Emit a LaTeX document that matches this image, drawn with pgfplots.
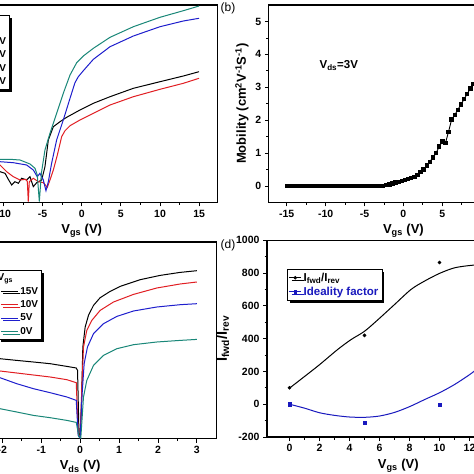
\documentclass[border=0pt]{standalone}
\usepackage{pgfplots}
\pgfplotsset{compat=1.18}
\usepackage{fontspec}
\setmainfont{Liberation Sans}
\usetikzlibrary{shadows}
\definecolor{myred}{RGB}{225,30,35}
\definecolor{myblue}{RGB}{30,30,205}
\definecolor{myteal}{RGB}{25,135,120}
\definecolor{dblue}{RGB}{25,25,190}
\pgfplotsset{
  panel/.style={scale only axis, anchor=south west,
    axis line style={line width=1.1pt},
    tick align=outside, tick pos=left,
    major tick length=4pt, minor tick length=2.5pt,
    every tick/.style={black, line width=0.8pt},
    tick label style={font=\fontsize{10.5}{12}\selectfont\bfseries},
    label style={font=\fontsize{13}{15}\selectfont\bfseries}},
  leg/.style={legend cell align=left,
    legend style={font=\fontsize{10}{12}\selectfont\bfseries, draw=black, line width=0.8pt,
      fill=white, inner sep=1.5pt, row sep=1pt,
      drop shadow={shadow xshift=2.5pt, shadow yshift=-2.5pt, fill=black, opacity=1}}},
  crv/.style={line width=1pt, no markers}
}
\begin{document}
\begin{tikzpicture}[x=1pt,y=1pt]
\useasboundingbox (0,0) rectangle (474,474);
\clip (0,0) rectangle (474,474);
\fill[white] (0,0) rectangle (474,474);

% ---------- (a) ----------
\begin{axis}[panel, at={(-53.8pt,271.5pt)}, width=271pt, height=197.5pt,
  xmin=-17.3, xmax=17.3, ymin=0, ymax=197.5,
  xtick={-15,-10,-5,0,5,10,15}, xticklabels={-15,-10,-5,0,5,10,15},
  minor x tick num=1, ytick=\empty,
  xlabel={V\textsubscript{gs} (V)},
  leg, legend style={at={(rel axis cs:0.2354,0.95)}, anchor=north east, row sep=1pt}]
\addlegendimage{empty legend}\addlegendentry{\hspace{-32pt}\rule[-7pt]{0pt}{19pt}V\textsubscript{ds}}
\addplot[crv, black] coordinates {(-17,31)(-14,31)(-12,31)(-10.43,30.8)(-9.79,29.2)(-9.37,23.2)(-8.94,17.5)(-8.52,20.8)(-8.09,19.2)(-7.67,24.2)(-7.03,22.5)(-6.6,25.8)(-6.18,15.8)(-5.75,19.8)(-5.11,22.5)(-4.69,35.8)(-4.26,62.5)(-3.62,75.8)(-2.77,80.8)(-1.92,85.2)(-0.22,92.5)(1.49,99.2)(3.62,105.8)(6.6,114.2)(10.0,120.8)(12.98,126.5)(14.98,130.8)};
\addlegendentry{3V}
\addplot[crv, myred] coordinates {(-17,42)(-14,42)(-12,41)(-10.43,37.5)(-9.58,30.8)(-8.73,25.8)(-7.88,22.5)(-7.12,23.2)(-6.94,20.8)(-6.82,0.8)(-6.69,20.8)(-6.18,24.2)(-5.54,20.8)(-4.9,19.8)(-4.39,15.2)(-4.05,22.5)(-3.62,32.5)(-3.11,47.5)(-2.56,65.8)(-2.13,71.8)(-1.49,76.8)(-0.22,82.5)(1.49,89.2)(3.62,97.5)(6.6,105.8)(10.0,113.2)(12.98,119.2)(14.98,124.2)};
\addlegendentry{2V}
\addplot[crv, myblue] coordinates {(-17,41)(-14,41)(-12,41)(-10.43,40.8)(-8.73,39.8)(-7.03,37.5)(-6.18,32.5)(-5.67,25.8)(-5.33,29.2)(-4.9,22.5)(-4.56,11.8)(-4.26,20.8)(-3.84,39.2)(-3.2,62.5)(-2.35,82.5)(-1.49,104.2)(-0.86,119.8)(-0.43,125.8)(0.21,131.8)(1.49,143.2)(3.62,155.8)(6.6,166.5)(10.0,175.8)(12.98,181.5)(14.98,184.2)};
\addlegendentry{1V}
\addplot[crv, myteal] coordinates {(-17,43)(-14,43)(-12,43)(-10.43,43.2)(-9.16,43.2)(-7.88,42.5)(-6.6,38.5)(-5.96,34.2)(-5.67,27.5)(-5.41,0.8)(-5.15,29.2)(-4.69,52.5)(-4.05,69.2)(-3.2,89.2)(-2.35,109.2)(-1.49,127.5)(-0.64,139.8)(0.21,146.5)(1.49,154.2)(3.62,165.2)(6.6,175.8)(10.0,185.2)(12.98,191.8)(14.98,196.5)};
\addlegendentry{0V}
\end{axis}

% ---------- (b) ----------
\begin{axis}[panel, at={(268.8pt,271.5pt)}, width=269.2pt, height=197.5pt,
  xmin=-17.3, xmax=17.3, ymin=-0.5, ymax=5.5,
  xtick={-15,-10,-5,0,5,10,15}, xticklabels={-15,-10,-5,0,5,10,15},
  ytick={0,1,2,3,4,5}, yticklabels={0,1,2,3,4,5},
  minor x tick num=1, minor y tick num=1,
  xlabel={V\textsubscript{gs} (V)},
  ylabel={Mobility (cm\textsuperscript{2}V\textsuperscript{-1}S\textsuperscript{-1})}]
\addplot[black, line width=0.9pt, mark=square*, mark size=1.7pt] coordinates {
(-15,0)(-14.6,0)(-14.2,0)(-13.8,0)(-13.4,0)(-13,0)(-12.6,0)(-12.2,0)(-11.8,0)(-11.4,0)
(-11,0)(-10.6,0)(-10.2,0)(-9.8,0)(-9.4,0)(-9,0)(-8.6,0)(-8.2,0)(-7.8,0)(-7.4,0)
(-7,0)(-6.6,0)(-6.2,0)(-5.8,0)(-5.4,0)(-5,0)(-4.6,0)(-4.2,0)(-3.8,0)(-3.4,0)(-3,0)
(-2.6,0.01)(-2.2,0.03)(-1.8,0.05)(-1.4,0.08)(-1.0,0.11)(-0.6,0.13)(-0.2,0.15)(0.2,0.18)
(0.6,0.21)(1.0,0.24)(1.4,0.28)(1.8,0.34)(2.2,0.42)(2.6,0.5)(3.0,0.62)(3.4,0.74)(3.8,0.87)
(4.2,1.0)(4.6,1.2)(5.0,1.35)(5.4,1.3)(5.8,1.65)(6.2,2.02)(6.6,2.16)(7.0,2.32)(7.4,2.48)
(7.8,2.64)(8.2,2.8)(8.6,2.96)(9.0,3.1)(9.4,3.25)(9.8,3.4)(10.2,3.55)(10.6,3.7)};
\node[font=\fontsize{11.5}{13}\selectfont\bfseries] at (axis cs:-8.3,3.65) {V\textsubscript{ds}=3V};
\end{axis}

% ---------- (c) ----------
\begin{axis}[panel, at={(-56pt,35.3pt)}, width=272.3pt, height=196.7pt,
  xmin=-3.5, xmax=3.5, ymin=0, ymax=196.7,
  xtick={-3,-2,-1,0,1,2,3}, xticklabels={-3,-2,-1,0,1,2,3},
  minor x tick num=1, ytick=\empty,
  xlabel={V\textsubscript{ds} (V)},
  leg, legend style={at={(rel axis cs:0.36,0.858)}, anchor=north east}]
\addlegendimage{empty legend}\addlegendentry{\hspace{-27pt}V\textsubscript{gs}}
\addplot[crv, black] coordinates {(-3.4,85)(-2.06,80)(-1.63,78.3)(-1.2,76.7)(-0.77,75)(-0.34,72.3)(-0.10,70.7)(-0.067,68.3)(-0.03,5)(0,1.7)(0.034,35)(0.069,91.7)(0.129,111.7)(0.214,123.3)(0.343,133.3)(0.514,141)(0.771,147.3)(1.028,152.3)(1.542,159)(2.056,163.3)(2.57,166.3)(3.0,168)};
\addlegendentry{15V}
\addplot[crv, myred] coordinates {(-3.4,72)(-2.06,67.7)(-1.63,65.7)(-1.2,63.7)(-0.77,61.7)(-0.34,59)(-0.1,56)(-0.05,5)(0,0.7)(0.043,51.7)(0.086,91.7)(0.171,108.3)(0.3,118.3)(0.514,128.3)(0.857,136.7)(1.371,144.3)(1.97,150.7)(2.57,154.7)(3.0,156.7)};
\addlegendentry{10V}
\addplot[crv, myblue] coordinates {(-3.4,67)(-2.06,61)(-1.63,55)(-1.2,50)(-0.77,46)(-0.34,41.7)(-0.1,38.3)(-0.05,3.3)(0,0.7)(0.051,45)(0.103,75)(0.188,91.7)(0.343,105)(0.6,115)(0.943,122.3)(1.371,127.7)(1.97,131.7)(2.57,134)(3.0,135)};
\addlegendentry{5V}
\addplot[crv, myteal] coordinates {(-3.4,34)(-2.06,30)(-1.63,26.7)(-1.2,23.3)(-0.77,21)(-0.34,18.3)(-0.1,16.3)(-0.03,1.7)(0.017,0.7)(0.086,41.7)(0.171,58.3)(0.343,73.3)(0.6,83.3)(0.943,90)(1.371,94)(1.97,96.7)(2.57,98.3)(3.0,99.3)};
\addlegendentry{0V}
\end{axis}

% ---------- (d) ----------
\begin{axis}[panel, at={(267pt,37pt)}, width=262.5pt, height=196.7pt,
  xmin=-1.5, xmax=16, ymin=-200, ymax=1000,
  xtick={0,2,4,6,8,10,12,14,16}, xticklabels={0,2,4,6,8,10,12,14,16},
  ytick={-200,0,200,400,600,800,1000}, yticklabels={-200,0,200,400,600,800,1000},
  minor x tick num=1, minor y tick num=1,
  xlabel={V\textsubscript{gs} (V)},
  ylabel={I\textsubscript{fwd}/I\textsubscript{rev}},
  ylabel style={font=\fontsize{14.5}{16}\selectfont\bfseries},
  leg, legend style={at={(rel axis cs:0.076,0.854)}, anchor=north west,
    font=\fontsize{11.5}{13}\selectfont\bfseries, row sep=0pt},
  legend image code/.code={\draw[mark repeat=2,mark phase=2,#1] plot coordinates {(0pt,0pt)(6pt,0pt)(12pt,0pt)};}]
\addlegendimage{black, line width=0.8pt, mark=*, mark size=1.3pt}
\addlegendentry{I\textsubscript{fwd}/I\textsubscript{rev}}
\addlegendimage{dblue, line width=0.8pt, mark=square*, mark size=1.3pt}
\addlegendentry{\textcolor{dblue}{Ideality factor}}
\addplot[black, line width=1pt, smooth, forget plot] coordinates {(0,98)(1,169)(2,241)(3.2,333)(4.1,394)(5,445)(5.9,516)(7,608)(8.1,700)(9,751)(10,798)(11,832)(12.1,847)(13,852)(14,845)};
\addplot[black, only marks, mark=*, mark size=1.6pt, forget plot] coordinates {(0,100)(5,420)(10,865)};
\addplot[dblue, line width=1pt, smooth, forget plot] coordinates {(0,0)(1,-24)(2,-52)(3,-68)(4,-78)(5,-80)(6,-72)(7,-50)(8,-15)(9,28)(10,70)(11,120)(12,180)(12.5,215)(13,250)};
\addplot[dblue, only marks, mark=square*, mark size=1.6pt, forget plot] coordinates {(0,0)(5,-115)(10,-5)};
\end{axis}

\node[font=\fontsize{12}{14}\selectfont] at (228,466) {(b)};
\node[font=\fontsize{12}{14}\selectfont] at (228,229) {(d)};
\end{tikzpicture}
\end{document}
